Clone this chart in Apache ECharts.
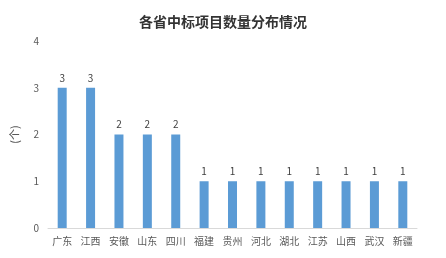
<!DOCTYPE html>
<html>

<head>
  <meta charset="utf-8">
  <title>各省中标项目数量分布情况</title>
  <script src="https://cdn.jsdelivr.net/npm/echarts@6/dist/echarts.min.js"></script>
  <style>
    html, body { margin: 0; padding: 0; background: #fff; }
  </style>
</head>

<body>
  <div id="main" style="width: 446px;height:258px;"></div>
  <script>
    var provinces = ['广东', '江西', '安徽', '山东', '四川', '福建', '贵州', '河北', '湖北', '江苏', '山西', '武汉', '新疆'];
    var counts = [3, 3, 2, 2, 2, 1, 1, 1, 1, 1, 1, 1, 1];
    var yTicks = [0, 1, 2, 3, 4];

    var font = '"Noto Sans CJK SC", sans-serif';
    var myChart = echarts.init(document.getElementById('main'));
    var option = {
      animation: false,
      title: {
        text: '各省中标项目数量分布情况',
        left: 'center',
        top: 10,
        textStyle: { fontSize: 14, fontWeight: 'bold', color: '#333', fontFamily: font }
      },
      grid: { left: 48, right: 29, top: 41, bottom: 30 },
      xAxis: {
        type: 'category',
        data: provinces,
        axisLine: { lineStyle: { color: '#d9d9d9' } },
        axisTick: { show: false },
        axisLabel: { color: '#595959', fontSize: 10, fontFamily: font, interval: 0, margin: 8 }
      },
      yAxis: {
        type: 'value',
        min: yTicks[0],
        max: yTicks[yTicks.length - 1],
        interval: 1,
        name: '(个)',
        nameLocation: 'middle',
        nameRotate: 90,
        nameGap: 28,
        nameTextStyle: { color: '#595959', fontSize: 11, fontFamily: font },
        axisLine: { show: false },
        axisTick: { show: false },
        splitLine: { show: false },
        axisLabel: { color: '#595959', fontSize: 10, fontFamily: font, margin: 9 }
      },
      series: [{
        type: 'bar',
        data: counts,
        barWidth: 9,
        itemStyle: { color: '#5b9bd5' },
        label: { show: true, position: 'top', color: '#404040', fontSize: 10, fontFamily: font, distance: 5 }
      }]
    };
    myChart.setOption(option);
  </script>
</body>

</html>
